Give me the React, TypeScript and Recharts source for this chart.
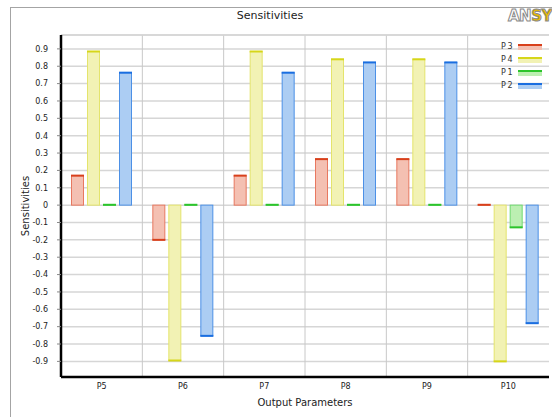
import { Bar, BarChart, CartesianGrid, Legend, ReferenceLine, XAxis, YAxis } from "recharts"

const categories = ["P5", "P6", "P7", "P8", "P9", "P10"]
const p3Values = [0.17, -0.2, 0.17, 0.265, 0.265, 0.002]
const p4Values = [0.885, -0.895, 0.885, 0.84, 0.84, -0.9]
const p1Values = [0.002, 0.002, 0.002, 0.002, 0.002, -0.128]
const p2Values = [0.763, -0.753, 0.763, 0.822, 0.822, -0.68]
const yTicks = [-0.9, -0.8, -0.7, -0.6, -0.5, -0.4, -0.3, -0.2, -0.1, 0, 0.1, 0.2, 0.3, 0.4, 0.5, 0.6, 0.7, 0.8, 0.9]

const series = [
    { key: "P3", dark: "#d8401c", edge: "#e87860", fill: "#f4c0b2" },
    { key: "P4", dark: "#d6d61a", edge: "#e4e46c", fill: "#f2f2b4" },
    { key: "P1", dark: "#2cc42c", edge: "#70da70", fill: "#bcefb2" },
    { key: "P2", dark: "#1a6ee0", edge: "#4c90e6", fill: "#accdf3" },
]

const data = categories.map((name, i) => ({
    name,
    P3: p3Values[i],
    P4: p4Values[i],
    P1: p1Values[i],
    P2: p2Values[i],
}))

const font = "'DejaVu Sans', sans-serif"

function makeShape(key: string, dark: string, edge: string, fill: string) {
    return (props: any) => {
        const { x, y, width, height, payload } = props
        const top = Math.min(y, y + height)
        const h = Math.abs(height)
        const v = payload ? payload[key] : Array.isArray(props.value) ? props.value[1] : props.value
        const capY = v >= 0 ? top : top + h
        return (
            <g>
                <rect x={x + 0.5} y={top} width={width - 1} height={h} fill={fill} stroke={edge} strokeWidth={1} />
                <line x1={x} x2={x + width} y1={capY} y2={capY} stroke={dark} strokeWidth={2} />
            </g>
        )
    }
}

function LegendBox() {
    return (
        <div style={{ fontFamily: font }}>
            {series.map(s => (
                <div key={s.key} style={{ display: "flex", alignItems: "center", height: 13 }}>
                    <span style={{ width: 16, textAlign: "right", fontSize: 8, letterSpacing: 1.5, color: "#333" }}>
                        {s.key}
                    </span>
                    <span style={{ marginLeft: 4, width: 24, display: "flex", flexDirection: "column" }}>
                        <span style={{ height: 2, background: s.dark }} />
                        <span style={{ height: 4, background: s.fill }} />
                    </span>
                </div>
            ))}
        </div>
    )
}

export default function App() {
    return (
        <div style={{ position: "absolute", left: 0, top: 0, width: 552, height: 417, overflow: "hidden", background: "#fff" }}>
            <div style={{ position: "absolute", left: 10, top: 7, width: 600, height: 500, border: "1px solid #a4a4a4" }} />
            <div style={{ position: "absolute", left: 0, top: 9, width: 540, textAlign: "center", fontFamily: font, fontSize: 11, color: "#222" }}>
                Sensitivities
            </div>
            <svg style={{ position: "absolute", left: 505, top: 6 }} width={60} height={20}>
                <text x={3} y={15} fontFamily={font} fontSize={15} fontWeight="bold" stroke="#8a8a8a" strokeWidth={1} letterSpacing={-0.5}>
                    <tspan fill="#fff">AN</tspan>
                    <tspan fill="#e8b800">SYS</tspan>
                </text>
            </svg>
            <div style={{ position: "absolute", left: 0, top: 0 }}>
                <BarChart
                    width={552}
                    height={417}
                    data={data}
                    margin={{ top: 35, right: 3, bottom: 0, left: 11 }}
                    barSize={13}
                    barGap={3}
                >
                    <CartesianGrid vertical={false} stroke="#d6d6d6" strokeWidth={1.5} />
                    <CartesianGrid
                        horizontal={false}
                        stroke="#c8c8c8"
                        strokeWidth={1}
                        verticalCoordinatesGenerator={({ offset }: any) =>
                            categories.slice(1).map((_, i) => offset.left + (offset.width * (i + 1)) / categories.length)
                        }
                    />
                    <ReferenceLine y={0.98} stroke="#d6d6d6" strokeWidth={1.5} />
                    <XAxis
                        dataKey="name"
                        height={40}
                        tickLine={false}
                        tickSize={0}
                        tickMargin={6}
                        axisLine={{ stroke: "#000", strokeWidth: 2.5 }}
                        tick={{ fontSize: 8, fill: "#222", fontFamily: font }}
                        label={{ value: "Output Parameters", position: "insideBottom", offset: 11, style: { fontSize: 10, fill: "#222", fontFamily: font } }}
                    />
                    <YAxis
                        width={50}
                        domain={[-0.99, 0.98]}
                        ticks={yTicks}
                        interval={0}
                        tickFormatter={(v: number) => (v === 0 ? "0" : v.toFixed(1))}
                        tickSize={4}
                        tickMargin={9}
                        tickLine={{ stroke: "#888" }}
                        axisLine={{ stroke: "#000", strokeWidth: 2.5 }}
                        tick={{ fontSize: 8, fill: "#222", fontFamily: font }}
                        label={{ value: "Sensitivities", angle: -90, position: "insideLeft", offset: 14, style: { textAnchor: "middle", fontSize: 10, fill: "#222", fontFamily: font } }}
                    />
                    <Legend
                        layout="vertical"
                        align="center"
                        verticalAlign="middle"
                        wrapperStyle={{ left: 498, top: 40, width: 50 }}
                        content={() => <LegendBox />}
                    />
                    {series.map(s => (
                        <Bar
                            key={s.key}
                            dataKey={s.key}
                            fill={s.fill}
                            isAnimationActive={false}
                            shape={makeShape(s.key, s.dark, s.edge, s.fill)}
                        />
                    ))}
                </BarChart>
            </div>
        </div>
    )
}
